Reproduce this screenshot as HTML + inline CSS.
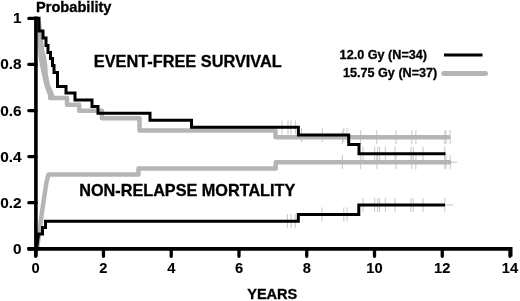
<!DOCTYPE html>
<html><head><meta charset="utf-8"><style>
html,body{margin:0;padding:0;background:#fff;}
body{width:520px;height:301px;overflow:hidden;}
svg{display:block;}
text{font-family:"Liberation Sans",Arial,Helvetica,sans-serif;font-weight:bold;fill:#000;stroke:#000;stroke-width:0.3px;}
.t{font-size:14px;}
.yl{font-size:14.5px;stroke-width:0.1px;}
.xl{font-size:14.7px;stroke-width:0.1px;}
.big{font-size:16px;}
.leg{font-size:12.5px;}
</style></head><body>
<svg width="520" height="301" viewBox="0 0 520 301">
<path d="M282.0,120.3 V134.3 M301.5,128.0 V142.0 M288.0,120.3 V134.3 M291.0,120.3 V134.3 M295.3,120.3 V134.3 M322.3,128.0 V142.0 M343.8,128.0 V142.0 M347.0,128.0 V142.0 M363.0,146.7 V160.7 M374.6,146.7 V160.7 M377.7,146.7 V160.7 M379.7,146.7 V160.7 M385.4,146.7 V160.7 M395.0,146.7 V160.7 M411.0,146.7 V160.7 M413.3,146.7 V160.7 M423.0,146.7 V160.7 M444.8,146.7 V160.7 M287.4,214.2 V228.2 M291.1,214.2 V228.2 M295.2,214.2 V228.2 M322.0,207.4 V221.4 M343.8,207.4 V221.4 M347.0,207.4 V221.4 M363.0,198.0 V212.0 M374.6,198.0 V212.0 M377.7,198.0 V212.0 M379.7,198.0 V212.0 M385.4,198.0 V212.0 M395.0,198.0 V212.0 M411.0,198.0 V212.0 M413.3,198.0 V212.0 M423.0,198.0 V212.0 M444.8,198.0 V212.0 M342.4,130.2 V144.2 M360.7,130.2 V144.2 M376.8,130.2 V144.2 M396.0,130.2 V144.2 M411.8,130.2 V144.2 M415.9,130.2 V144.2 M444.8,130.2 V144.2 M446.0,130.2 V144.2 M450.2,130.2 V144.2 M342.4,155.2 V169.2 M360.7,155.2 V169.2 M376.8,155.2 V169.2 M396.0,155.2 V169.2 M411.8,155.2 V169.2 M415.9,155.2 V169.2 M444.8,155.2 V169.2 M446.0,155.2 V169.2 M450.2,155.2 V169.2" fill="none" stroke="#c6c6c6" stroke-width="1"/>
<path d="M451,162.2 H457 M445,205 H453" fill="none" stroke="#c6c6c6" stroke-width="1"/>
<path d="M36.5,18 L39.5,18 L41.5,25 L42.6,35 L43.4,42 L44.2,50 L46,56 L47.3,65 L48,75 L50,85 L53,91.5 L54.5,95.8 L50,100.2 L47.2,93.5 L44.4,86 L42.2,76 L40,66 L38.5,56 L38,48 L37.6,38 L37.4,28 Z" fill="#b5b5b5"/>
<path d="M50,98 H67 V104.7 H79.2 V110.8 H102 V118.2 H139.5 V130.5 H275.5 V137.2 H448.3" fill="none" stroke="#b5b5b5" stroke-width="4.5" stroke-linejoin="round" stroke-linecap="round"/>
<path d="M37,249 L39.5,231 L42,212 L44.5,195 L46.5,182 L48.5,174.4 H138.5 V168.4 H275.7 V162.2 H449.3" fill="none" stroke="#b5b5b5" stroke-width="4.5" stroke-linejoin="round" stroke-linecap="round"/>
<path d="M35.7,18.2 H39 V31 H43 V38 H46 V45.5 H48 V52.5 H50.5 V58.5 H52.5 V65.5 H54 V72.5 H57.5 V86.5 H66 V93 H75 V100 H92 V106.5 H98 V113.3 H150 V120.2 H191.5 V127.3 H298.4 V135 H348.7 V144.5 H359 V153.7 H445.5" fill="none" stroke="#000" stroke-width="3" stroke-linejoin="miter"/>
<path d="M36.5,249 L38.6,234 H42.5 V227.5 H45.5 V221.2 H298.3 V214.4 H358.8 V205 H445" fill="none" stroke="#000" stroke-width="3" stroke-linejoin="miter"/>
<path d="M35.9,16.6 V249 M35.9,249 V256.5 M27.5,248.9 H510.7 V256.5" fill="none" stroke="#000" stroke-width="3.6"/>
<path d="M28.8,18.40 H36 M28.8,64.47 H36 M28.8,110.54 H36 M28.8,156.61 H36 M28.8,202.68 H36 M28.8,248.75 H36 M35.70,249 V256.3 M103.46,249 V256.3 M171.22,249 V256.3 M238.98,249 V256.3 M306.74,249 V256.3 M374.50,249 V256.3 M442.26,249 V256.3 M510.02,249 V256.3" fill="none" stroke="#000" stroke-width="3.3" stroke-linecap="round"/>
<path d="M444,55 H482.5" stroke="#000" stroke-width="3"/>
<path d="M443.8,73.5 H485.5" stroke="#b5b5b5" stroke-width="5" stroke-linecap="round"/>
<text transform="translate(21.6,23.40) scale(1.06,1)" text-anchor="end" class="yl">1</text>
<text transform="translate(21.6,69.47) scale(1.06,1)" text-anchor="end" class="yl">0.8</text>
<text transform="translate(21.6,115.54) scale(1.06,1)" text-anchor="end" class="yl">0.6</text>
<text transform="translate(21.6,161.61) scale(1.06,1)" text-anchor="end" class="yl">0.4</text>
<text transform="translate(21.6,207.68) scale(1.06,1)" text-anchor="end" class="yl">0.2</text>
<text transform="translate(21.6,253.75) scale(1.06,1)" text-anchor="end" class="yl">0</text>
<text x="35.70" y="272.6" text-anchor="middle" class="xl">0</text>
<text x="103.46" y="272.6" text-anchor="middle" class="xl">2</text>
<text x="171.22" y="272.6" text-anchor="middle" class="xl">4</text>
<text x="238.98" y="272.6" text-anchor="middle" class="xl">6</text>
<text x="306.74" y="272.6" text-anchor="middle" class="xl">8</text>
<text x="374.50" y="272.6" text-anchor="middle" class="xl">10</text>
<text x="442.26" y="272.6" text-anchor="middle" class="xl">12</text>
<text x="510.02" y="272.6" text-anchor="middle" class="xl">14</text>
<text transform="translate(36,11.5) scale(1.045,1)" class="t">Probability</text>
<text transform="translate(247.2,299.1) scale(1.04,1)" class="t">YEARS</text>
<text transform="translate(93.8,66.8) scale(1.02,1)" class="big">EVENT-FREE SURVIVAL</text>
<text transform="translate(79.2,195.6) scale(1.015,1)" class="big">NON-RELAPSE MORTALITY</text>
<text transform="translate(339.6,58.5) scale(1.012,1)" class="leg">12.0 Gy (N=34)</text>
<text transform="translate(343,77.2) scale(1.01,1)" class="leg">15.75 Gy (N=37)</text>
</svg>
</body></html>
